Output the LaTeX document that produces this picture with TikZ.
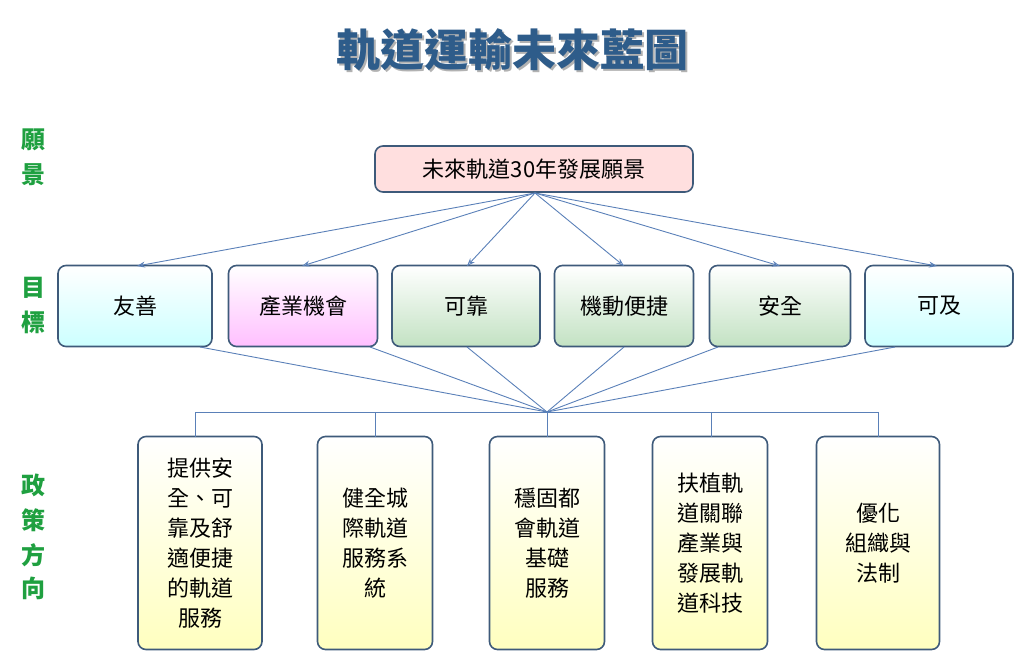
\documentclass[tikz,border=0pt]{standalone}
\usepackage{fontspec}
\setmainfont{Noto Sans CJK TC}
\usetikzlibrary{arrows.meta,shadows}
\definecolor{bd}{HTML}{3E5A7A}
\definecolor{ln}{HTML}{5A80B8}
\definecolor{ttl}{HTML}{2E5C8A}
\definecolor{grn}{HTML}{1FA040}
\tikzset{
 box/.style={draw=bd,line width=1.6pt,rounded corners=8pt,align=center,font=\fontsize{22}{30}\selectfont,inner sep=0pt},
 cy/.style={box,top color=white,bottom color=cyan!20},
 pk/.style={box,top color=white,bottom color=magenta!25},
 gg/.style={box,top color=white,bottom color=green!35!gray!35},
 yl/.style={box,top color=white,bottom color=yellow!25},
 lab/.style={text=grn,font=\fontsize{24}{28}\selectfont\bfseries},
 ar/.style={ln,line width=0.9pt,-{Stealth[length=8pt,width=6pt,open]}},
 li/.style={ln,line width=0.9pt}
}
\begin{document}
\begin{tikzpicture}[x=1pt,y=-1pt]
\useasboundingbox (0,0) rectangle (1024,654);
\node[text=gray!60,font=\fontsize{44}{50}\selectfont\bfseries] at (514,52) {軌道運輸未來藍圖};
\node (title) [text=ttl,font=\fontsize{44}{50}\selectfont\bfseries] at (512,50) {軌道運輸未來藍圖};
\foreach \t/\y [count=\i] in {願/140,景/175,目/288,標/322,政/485,策/520,方/555,向/588}
 \node (l\i) [lab] at (33,\y) {\t};
\node (top) [box,fill=pink!50,minimum width=318pt,minimum height=46pt] at (534,169) {未來軌道30年發展願景};
\node (g1) [cy,minimum width=154pt,minimum height=81pt] at (135,306) {友善};
\node (g2) [pk,minimum width=149pt,minimum height=81pt] at (303,306) {產業機會};
\node (g3) [gg,minimum width=148pt,minimum height=81pt] at (466,306) {可靠};
\node (g4) [gg,minimum width=139pt,minimum height=81pt] at (624,306) {機動便捷};
\node (g5) [gg,minimum width=141pt,minimum height=81pt] at (780,306) {安全};
\node (g6) [cy,minimum width=148pt,minimum height=81pt] at (939,306) {可及};
\coordinate (s) at (535,193);
\foreach \x/\g in {137/g1,302/g2,467/g3,624/g4,780/g5,937/g6}
 \draw[ar] (s) -- (\x,266);
\node (p1) [yl,minimum width=124pt,minimum height=213pt] at (200,543) {提供安\\全、可\\靠及舒\\適便捷\\的軌道\\服務};
\node (p2) [yl,minimum width=115pt,minimum height=213pt] at (375,543) {健全城\\際軌道\\服務系\\統};
\node (p3) [yl,minimum width=115pt,minimum height=213pt] at (547,543) {穩固都\\會軌道\\基礎\\服務};
\node (p4) [yl,minimum width=115pt,minimum height=213pt] at (710,543) {扶植軌\\道關聯\\產業與\\發展軌\\道科技};
\node (p5) [yl,minimum width=123pt,minimum height=213pt] at (878,543) {優化\\組織與\\法制};
\coordinate (m) at (547,412);
\foreach \x in {200,370,467,624,718,895} \draw[li] (\x,347) -- (m);
\draw[li] (195,437) -- (195,412) -- (878,412) -- (878,437);
\foreach \x in {375,547,711} \draw[li] (\x,412) -- (\x,437);
\end{tikzpicture}
\end{document}
